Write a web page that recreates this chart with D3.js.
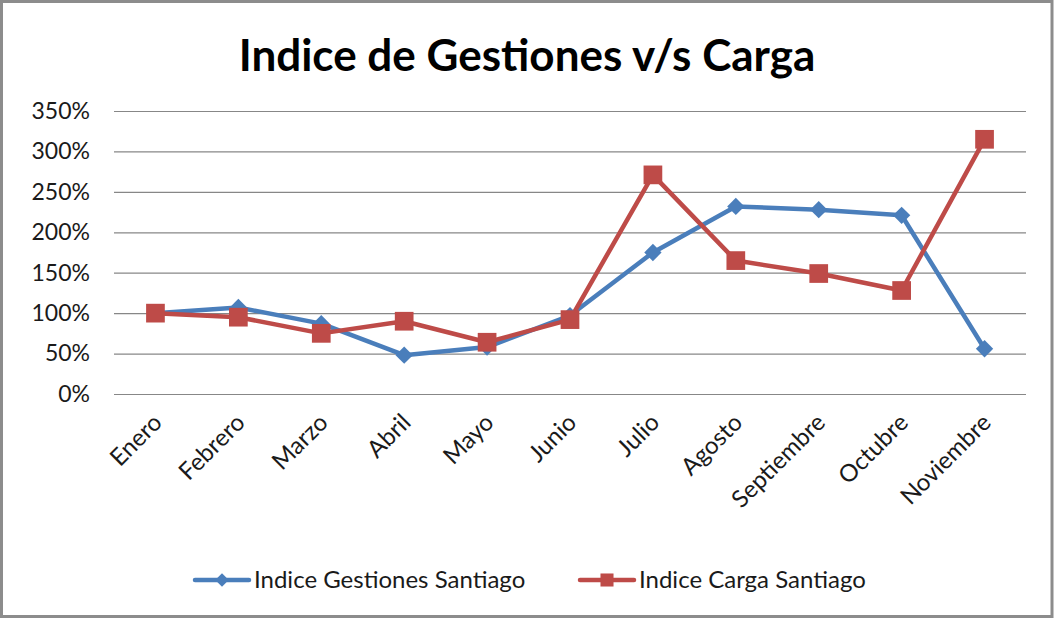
<!DOCTYPE html>
<html>
<head>
<meta charset="utf-8">
<script src="https://cdn.jsdelivr.net/npm/d3@7"></script>
<style>
  body { margin: 0; background: #fff; }
  svg { display: block; font-family: Lato, "Open Sans", sans-serif; }
</style>
</head>
<body>
<svg width="1054" height="619"></svg>
<script>
var months = ["Enero", "Febrero", "Marzo", "Abril", "Mayo", "Junio", "Julio", "Agosto", "Septiembre", "Octubre", "Noviembre"];
var gestiones = [1.00, 1.07, 0.87, 0.48, 0.58, 0.97, 1.75, 2.32, 2.28, 2.21, 0.56];
var carga = [1.00, 0.95, 0.75, 0.90, 0.64, 0.92, 2.71, 1.65, 1.49, 1.28, 3.15];
var yTicks = [0, 0.5, 1, 1.5, 2, 2.5, 3, 3.5];
var seriesNames = ["Indice Gestiones Santiago", "Indice Carga Santiago"];

var blue = "#4a7ebb", red = "#be4b48";
var plot = {left: 114, right: 1026, top: 111, bottom: 394};

var svg = d3.select("svg");

// outer frame
svg.append("rect")
    .attr("x", 1.5).attr("y", 1.5)
    .attr("width", 1050.5).attr("height", 615)
    .attr("fill", "#fff")
    .attr("stroke", "#8c8c8c")
    .attr("stroke-width", 3);

svg.append("text")
    .attr("x", 527).attr("y", 71)
    .attr("text-anchor", "middle")
    .attr("font-weight", "bold")
    .attr("font-size", 44)
    .text("Indice de Gestiones v/s Carga");

var x = d3.scaleBand()
    .domain(months)
    .range([plot.left, plot.right]);

var y = d3.scaleLinear()
    .domain([0, 3.5])
    .range([plot.bottom, plot.top]);

function cx(d) { return x(d) + x.bandwidth() / 2; }

// gridlines + y labels
var gY = svg.append("g")
    .attr("transform", "translate(" + plot.left + ",0)")
    .call(d3.axisLeft(y)
        .tickValues(yTicks)
        .tickFormat(d3.format(".0%"))
        .tickSizeInner(-(plot.right - plot.left))
        .tickSizeOuter(0)
        .tickPadding(24));
gY.select(".domain").remove();
gY.selectAll(".tick line").attr("stroke", "#878787").attr("stroke-width", 1.2);
gY.selectAll(".tick text")
    .attr("font-family", "Lato, sans-serif")
    .attr("font-size", 23)
    .attr("fill", "#1a1a1a");

// x labels, rotated
var gX = svg.append("g")
    .attr("transform", "translate(0," + plot.bottom + ")")
    .call(d3.axisBottom(x).tickSize(0).tickPadding(0));
gX.select(".domain").remove();
gX.selectAll(".tick text")
    .attr("font-family", "Lato, sans-serif")
    .attr("font-size", 24)
    .attr("fill", "#1a1a1a")
    .attr("text-anchor", "end")
    .attr("y", 0)
    .attr("dy", 0)
    .attr("transform", "translate(8,30) rotate(-45)");

var line = d3.line()
    .x(function(d, i) { return cx(months[i]); })
    .y(function(d) { return y(d); });

svg.append("path")
    .datum(gestiones)
    .attr("fill", "none")
    .attr("stroke", blue)
    .attr("stroke-width", 4.5)
    .attr("stroke-linejoin", "round")
    .attr("d", line);

svg.append("path")
    .datum(carga)
    .attr("fill", "none")
    .attr("stroke", red)
    .attr("stroke-width", 4.5)
    .attr("stroke-linejoin", "round")
    .attr("d", line);

var diamond = d3.symbol().type(d3.symbolSquare).size(150);
var square = d3.symbol().type(d3.symbolSquare).size(350);

svg.append("g").selectAll("path")
    .data(gestiones)
    .join("path")
    .attr("d", diamond)
    .attr("fill", blue)
    .attr("transform", function(d, i) {
        return "translate(" + cx(months[i]) + "," + y(d) + ") rotate(45)";
    });

svg.append("g").selectAll("path")
    .data(carga)
    .join("path")
    .attr("d", square)
    .attr("fill", red)
    .attr("transform", function(d, i) {
        return "translate(" + cx(months[i]) + "," + y(d) + ")";
    });

// legend
var legendY = 580;
var legendItems = [
    {name: seriesNames[0], color: blue, x0: 195, sym: d3.symbol().type(d3.symbolSquare).size(90), rot: 45},
    {name: seriesNames[1], color: red, x0: 580, sym: d3.symbol().type(d3.symbolSquare).size(170), rot: 0}
];
var lg = svg.append("g").selectAll("g")
    .data(legendItems)
    .join("g")
    .attr("transform", function(d) { return "translate(" + d.x0 + "," + legendY + ")"; });
lg.append("line")
    .attr("x1", 0).attr("x2", 54)
    .attr("stroke", function(d) { return d.color; })
    .attr("stroke-width", 4.5)
    .attr("stroke-linecap", "round");
lg.append("path")
    .attr("d", function(d) { return d.sym(); })
    .attr("fill", function(d) { return d.color; })
    .attr("transform", function(d) { return "translate(27,0) rotate(" + d.rot + ")"; });
lg.append("text")
    .attr("x", 59)
    .attr("dy", "0.35em")
    .attr("font-size", 24)
    .attr("fill", "#1a1a1a")
    .text(function(d) { return d.name; });
</script>
</body>
</html>
